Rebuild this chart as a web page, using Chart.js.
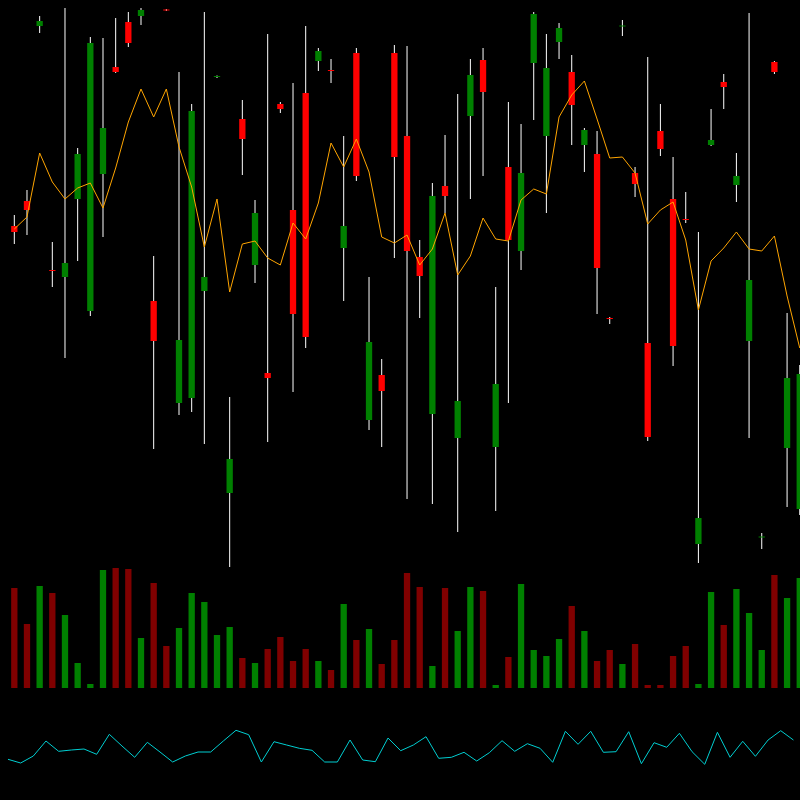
<!DOCTYPE html>
<html>
<head>
<meta charset="utf-8">
<script src="https://cdn.jsdelivr.net/npm/chart.js@4.4.0/dist/chart.umd.min.js"></script>
<style>
  html, body { margin: 0; padding: 0; background: #000; }
  canvas { display: block; }
</style>
</head>
<body>
<canvas id="stockChart" width="800" height="800"></canvas>
<script>
// price candles (open / high / low / close), one per session
const opens = [57.4, 59.9, 77.4, 53.0, 52.3, 60.1, 48.9, 62.6, 73.3, 77.8, 78.4, 49.9, 79.05, 39.7, 40.2, 50.9,
  72.3, 30.7, 68.1, 53.5, 42.7, 69.6, 59.0, 70.7, 73.9, 73.0, 55.2, 74.7, 38.0, 42.5, 74.7, 66.4,
  54.3, 38.6, 61.4, 36.2, 68.4, 74.0, 35.3, 63.3, 54.9, 73.7, 66.4, 75.8, 72.8, 65.5, 64.6, 48.2,
  77.35, 62.7, 45.7, 66.9, 60.1, 58.1, 25.6, 65.5, 71.8, 61.5, 45.9, 26.25, 73.8, 35.2, 29.1];
const highs = [58.5, 61.0, 78.4, 55.8, 79.2, 65.2, 76.3, 76.2, 78.2, 78.8, 79.2, 54.4, 79.1, 72.8, 69.6, 78.8,
  72.45, 40.3, 70.0, 60.0, 76.6, 69.8, 71.7, 77.4, 75.2, 74.1, 66.4, 75.2, 52.3, 44.1, 75.5, 75.4,
  56.0, 61.7, 66.5, 70.6, 74.1, 75.2, 51.3, 69.8, 67.6, 78.8, 76.6, 77.7, 74.5, 67.2, 66.9, 48.3,
  78.0, 63.3, 74.3, 69.6, 64.3, 60.8, 56.8, 69.1, 72.6, 64.7, 78.7, 26.7, 73.9, 48.7, 43.5];
const lows = [55.6, 56.5, 76.7, 51.3, 44.2, 53.9, 48.4, 56.3, 72.7, 75.3, 77.5, 35.1, 78.9, 38.5, 38.8, 35.6,
  72.2, 23.3, 62.5, 51.7, 35.8, 68.7, 40.8, 45.2, 72.9, 71.7, 49.9, 61.9, 37.0, 35.3, 54.2, 30.1,
  48.2, 29.6, 58.7, 26.8, 60.1, 62.4, 28.9, 39.7, 53.0, 68.0, 58.7, 74.1, 65.5, 62.8, 48.6, 47.6,
  76.4, 60.3, 35.9, 64.4, 43.4, 57.7, 23.7, 65.4, 69.1, 59.8, 36.2, 25.1, 72.6, 29.3, 28.5];
const closes = [56.8, 59.0, 77.9, 52.9, 53.7, 64.6, 75.7, 67.2, 72.8, 75.7, 79.0, 45.9, 78.95, 46.0, 68.9, 52.3,
  72.4, 34.1, 66.1, 58.7, 42.2, 69.1, 48.6, 46.3, 74.9, 72.9, 57.4, 62.4, 45.8, 40.9, 64.3, 54.9,
  52.4, 60.4, 60.4, 39.9, 72.5, 70.8, 41.6, 56.0, 62.7, 78.6, 73.2, 77.2, 69.5, 67.0, 53.2, 48.1,
  77.45, 61.6, 36.3, 65.1, 45.4, 58.0, 28.2, 66.0, 71.3, 62.4, 52.0, 26.35, 72.8, 42.2, 42.6];

// orange overlay line
const trendLine = [57.1, 58.3, 64.7, 61.8, 60.1, 61.2, 61.7, 59.2, 63.2, 67.8, 71.1, 68.3, 71.1, 65.3, 61.3, 55.3,
  60.1, 50.8, 55.6, 55.9, 54.2, 53.5, 57.7, 56.1, 59.7, 65.7, 63.3, 66.1, 62.8, 56.3, 55.7, 56.5,
  53.5, 55.1, 58.7, 52.5, 54.4, 58.2, 56.1, 55.9, 60.0, 61.1, 60.6, 68.3, 70.5, 71.9, 68.1, 64.2,
  64.3, 62.7, 57.6, 59.0, 59.8, 56.0, 49.0, 53.9, 55.2, 56.8, 55.1, 54.9, 56.4, 50.4, 45.2];

// volume
const volumes = [10.0, 6.4, 10.2, 9.5, 7.3, 2.5, 0.4, 11.8, 12.0, 11.9, 5.0, 10.5, 4.2, 6.0, 9.5, 8.6,
  5.3, 6.1, 3.0, 2.5, 3.9, 5.1, 2.7, 3.9, 2.7, 1.8, 8.4, 4.8, 5.9, 2.4, 4.8, 11.5,
  10.1, 2.2, 10.0, 5.7, 10.1, 9.7, 0.3, 3.1, 10.4, 3.8, 3.2, 4.9, 8.2, 5.7, 2.7, 3.8,
  2.4, 4.4, 0.3, 0.3, 3.2, 4.2, 0.4, 9.6, 6.3, 9.9, 7.5, 3.8, 11.3, 9.0, 11.0];

// oscillator (cyan)
const oscillator = [40.7, 37.0, 44.0, 59.0, 48.7, 50.0, 51.0, 45.7, 65.7, 54.0, 42.7, 57.7, 48.0, 38.0, 44.0, 48.0,
  48.0, 59.0, 69.7, 65.3, 38.0, 58.3, 55.0, 51.7, 49.7, 38.0, 38.0, 60.0, 40.0, 38.3, 62.0, 49.3,
  55.0, 63.3, 41.7, 42.7, 47.7, 39.0, 47.3, 59.3, 48.7, 56.3, 51.7, 37.7, 68.7, 55.7, 68.7, 47.7,
  48.3, 68.3, 36.3, 57.3, 52.7, 66.7, 48.3, 35.7, 67.7, 42.7, 58.7, 43.7, 60.0, 69.3, 60.0];

const UP = '#008000';
const DOWN = '#ff0000';
const VOL_UP = '#008000';
const VOL_DOWN = '#800000';

const isUp = opens.map((o, i) => closes[i] >= o);

const wickData = highs.map((h, i) => ({ x: i, y: [lows[i], h] }));
const bodyData = opens.map((o, i) => ({ x: i, y: [o, closes[i]] }));
const trendData = trendLine.map((v, i) => ({ x: i, y: v }));
const volumeData = volumes.map((v, i) => ({ x: i, y: v }));
// the oscillator is plotted half a step to the left of the candles
const oscData = oscillator.map((v, i) => ({ x: i - 0.5, y: v }));

new Chart(document.getElementById('stockChart'), {
    type: 'bar',
    data: {
        datasets: [
            {
                type: 'line',
                data: trendData,
                yAxisID: 'price',
                borderColor: '#ffa500',
                borderWidth: 1,
                pointRadius: 0,
                tension: 0,
                order: 0,
            },
            {
                type: 'line',
                data: oscData,
                yAxisID: 'osc',
                borderColor: '#00ced1',
                borderWidth: 1,
                pointRadius: 0,
                tension: 0,
                order: 0,
            },
            {
                data: bodyData,
                yAxisID: 'price',
                backgroundColor: isUp.map(u => u ? UP : DOWN),
                barThickness: 6.3,
                inflateAmount: 0,
                grouped: false,
                order: 1,
            },
            {
                data: wickData,
                yAxisID: 'price',
                backgroundColor: '#ffffff',
                barThickness: 1,
                inflateAmount: 0,
                grouped: false,
                order: 2,
            },
            {
                data: volumeData,
                yAxisID: 'vol',
                backgroundColor: isUp.map(u => u ? VOL_UP : VOL_DOWN),
                barThickness: 6.3,
                inflateAmount: 0,
                grouped: false,
                order: 1,
            },
        ],
    },
    options: {
        responsive: false,
        animation: false,
        events: [],
        layout: { padding: 0 },
        plugins: {
            legend: { display: false },
            tooltip: { enabled: false },
        },
        scales: {
            x: { type: 'linear', min: -1.13, max: 62.02, offset: false, display: false },
            price: { type: 'linear', position: 'left', min: 0, max: 80, display: false },
            vol: { type: 'linear', position: 'left', min: -11.2, max: 68.8, display: false },
            osc: { type: 'linear', position: 'left', min: 0, max: 800, display: false },
        },
    },
});
</script>
</body>
</html>
